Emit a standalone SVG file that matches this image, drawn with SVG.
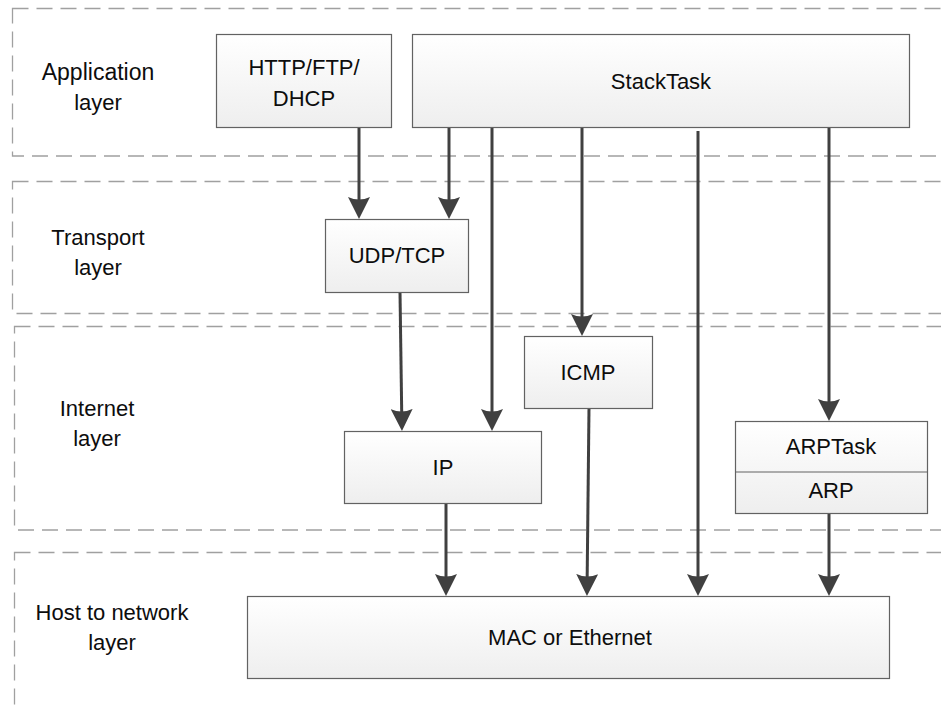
<svg xmlns="http://www.w3.org/2000/svg" width="941" height="706" viewBox="0 0 941 706">
  <defs>
    <linearGradient id="boxFill" x1="0" y1="0" x2="0" y2="1">
      <stop offset="0" stop-color="#ffffff"/>
      <stop offset="1" stop-color="#eeeeee"/>
    </linearGradient>
    <marker id="head" viewBox="0 -11 22 22" markerWidth="22" markerHeight="22" refX="10" refY="0" orient="auto" markerUnits="userSpaceOnUse">
      <path d="M0,-11 Q5,0 0,11 L22,0 Z" fill="#404040"/>
    </marker>
    <style>
      .band { fill: none; stroke: #a0a0a0; stroke-width: 1.3; stroke-dasharray: 16 8; }
      .box { fill: url(#boxFill); stroke: #626262; stroke-width: 1.2; }
      .lbl { font-family: "Liberation Sans", Arial, sans-serif; font-size: 22px; fill: #0d0d0d; text-anchor: middle; }
      .wide { font-size: 23px; }
      .wire { stroke: #404040; stroke-width: 3; fill: none; marker-end: url(#head); }
    </style>
  </defs>
  <rect width="941" height="706" fill="#ffffff"/>

  <!-- layer bands -->
  <g id="layer-application">
    <rect class="band" x="12.5" y="8.5" width="1000" height="147.5"/>
    <text class="lbl wide" x="98" y="80">Application</text>
    <text class="lbl" x="98" y="110">layer</text>
  </g>
  <g id="layer-transport">
    <rect class="band" x="12.5" y="181.5" width="1000" height="132"/>
    <text class="lbl" x="98" y="245">Transport</text>
    <text class="lbl" x="98" y="275">layer</text>
  </g>
  <g id="layer-internet">
    <rect class="band" x="14.5" y="326.5" width="1000" height="203.5"/>
    <text class="lbl" x="97" y="416">Internet</text>
    <text class="lbl" x="97" y="446">layer</text>
  </g>
  <g id="layer-host">
    <rect class="band" x="14.5" y="552.5" width="1000" height="300"/>
    <text class="lbl" x="112" y="620">Host to network</text>
    <text class="lbl" x="112" y="650">layer</text>
  </g>

  <!-- connectors -->
  <g id="connectors">
    <line class="wire" x1="359" y1="127" x2="359" y2="207"/>
    <line class="wire" x1="449" y1="127" x2="449" y2="207"/>
    <line class="wire" x1="492" y1="127" x2="492" y2="419"/>
    <line class="wire" x1="582" y1="127" x2="582" y2="324"/>
    <line class="wire" x1="698" y1="131" x2="698" y2="584"/>
    <line class="wire" x1="829" y1="127" x2="829" y2="409"/>
    <line class="wire" x1="400" y1="292" x2="401.8" y2="419"/>
    <line class="wire" x1="446" y1="503" x2="446" y2="584"/>
    <line class="wire" x1="589" y1="408" x2="587.1" y2="584"/>
    <line class="wire" x1="829" y1="513" x2="829" y2="584"/>
  </g>

  <!-- protocol nodes -->
  <g id="node-http">
    <rect class="box" x="216.5" y="34.5" width="175" height="93"/>
    <text class="lbl" x="304" y="75">HTTP/FTP/</text>
    <text class="lbl" x="304" y="106">DHCP</text>
  </g>
  <g id="node-stacktask">
    <rect class="box" x="412.5" y="34.5" width="497" height="93"/>
    <text class="lbl" x="661" y="89">StackTask</text>
  </g>
  <g id="node-udptcp">
    <rect class="box" x="325.5" y="219.5" width="143" height="73"/>
    <text class="lbl" x="397" y="263">UDP/TCP</text>
  </g>
  <g id="node-icmp">
    <rect class="box" x="524.5" y="336.5" width="128" height="72"/>
    <text class="lbl" x="588" y="380">ICMP</text>
  </g>
  <g id="node-ip">
    <rect class="box" x="344.5" y="431.5" width="197" height="72"/>
    <text class="lbl" x="443" y="475">IP</text>
  </g>
  <g id="node-arp">
    <rect class="box" x="735.5" y="421.5" width="192" height="92"/>
    <line x1="735.5" y1="472" x2="927.5" y2="472" stroke="#626262" stroke-width="1.2"/>
    <text class="lbl" x="831" y="454">ARPTask</text>
    <text class="lbl" x="831" y="498">ARP</text>
  </g>
  <g id="node-mac">
    <rect class="box" x="247.5" y="596.5" width="642" height="82"/>
    <text class="lbl" x="570" y="645">MAC or Ethernet</text>
  </g>
</svg>
